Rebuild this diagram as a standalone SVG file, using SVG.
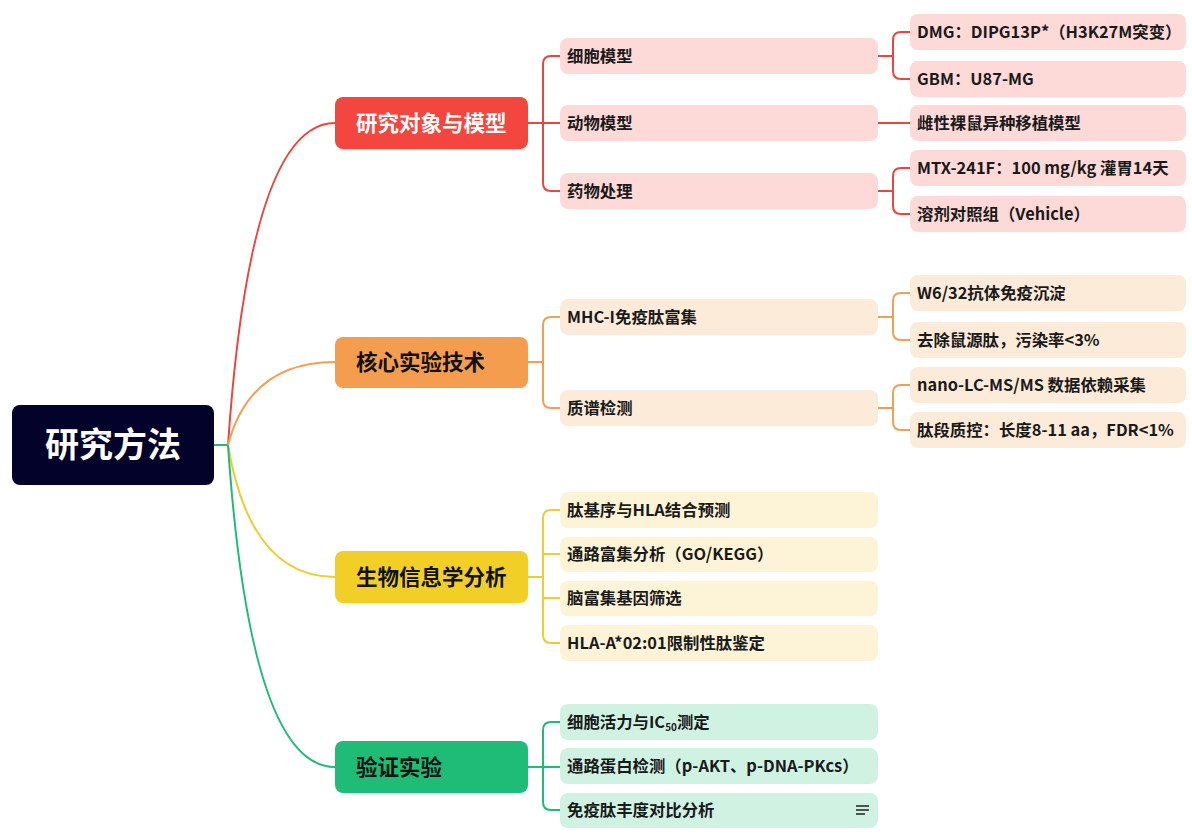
<svg xmlns="http://www.w3.org/2000/svg" width="1192" height="834" viewBox="0 0 1192 834">
<style>
text{font-family:"Noto Sans CJK SC","Noto Sans",sans-serif;}
.root{fill:#03022a;}
.rt{fill:#fff;font-size:34px;font-weight:700;}
.l1t{font-size:21.5px;font-weight:700;fill:#111;}
.l2t{font-size:16.4px;font-weight:600;fill:#1a1a1a;}
.red .l1{fill:#f2463e;} .red .l2{fill:#fdd9d8;}
.org .l1{fill:#f59d4e;} .org .l2{fill:#fdebd9;}
.yel .l1{fill:#f1cf27;} .yel .l2{fill:#fdf3d6;}
.grn .l1{fill:#1ebc76;} .grn .l2{fill:#cff2e3;}
.c{fill:none;stroke-width:2;}
.cr{stroke:#e8473f;} .co{stroke:#eea055;} .cy{stroke:#eccd32;} .cg{stroke:#1fbb7a;}
</style>
<rect width="1192" height="834" fill="#fff"/>
<g id="connectors">
  <path class="c cg" d="M214,445 H228"/>
  <path class="c cr" d="M228,445 Q250,123 335,123"/>
  <path class="c co" d="M228,445 Q250,362 335,362"/>
  <path class="c cy" d="M228,445 Q250,577 335,577"/>
  <path class="c cg" d="M228,445 Q250,767 335,767"/>
  <path class="c cr" d="M528,123 H560 M560,56 H551 Q543,56 543,64 V183 Q543,191 551,191 H560"/>
  <path class="c cr" d="M878,56 H893 M910,32 H901 Q893,32 893,40 V71 Q893,79 901,79 H910"/>
  <path class="c cr" d="M878,123 H910"/>
  <path class="c cr" d="M878,191 H893 M910,168 H901 Q893,168 893,176 V206 Q893,214 901,214 H910"/>
  <path class="c co" d="M528,362 H543 M560,317 H551 Q543,317 543,325 V400 Q543,408 551,408 H560"/>
  <path class="c co" d="M878,317 H893 M910,293 H901 Q893,293 893,301 V332 Q893,340 901,340 H910"/>
  <path class="c co" d="M878,408 H893 M910,385 H901 Q893,385 893,393 V422 Q893,430 901,430 H910"/>
  <path class="c cy" d="M528,577 H543 M560,510 H551 Q543,510 543,518 V635 Q543,643 551,643 H560 M543,554 H560 M543,598 H560"/>
  <path class="c cg" d="M528,767 H560 M560,722 H551 Q543,722 543,730 V802 Q543,810 551,810 H560"/>
</g>
<g id="root">
  <rect class="root" x="12" y="405" width="202" height="80" rx="8"/>
  <text class="rt" x="113" y="457" text-anchor="middle">研究方法</text>
</g>
<g class="red">
  <g id="n-research-object"><rect class="l1" x="335" y="97" width="193" height="52" rx="8"/><text class="l1t" x="356" y="131" style="fill:#fff">研究对象与模型</text></g>
  <g id="n-cell-model"><rect class="l2" x="560" y="38" width="318" height="36" rx="8"/><text class="l2t" x="567" y="62">细胞模型</text></g>
  <g id="n-animal-model"><rect class="l2" x="560" y="105" width="318" height="36" rx="8"/><text class="l2t" x="567" y="129">动物模型</text></g>
  <g id="n-drug"><rect class="l2" x="560" y="173" width="318" height="36" rx="8"/><text class="l2t" x="567" y="197">药物处理</text></g>
  <g id="n-dmg"><rect class="l2" x="910" y="14" width="276" height="36" rx="8"/><text class="l2t" x="917" y="38">DMG：DIPG13P*（H3K27M突变）</text></g>
  <g id="n-gbm"><rect class="l2" x="910" y="61" width="276" height="36" rx="8"/><text class="l2t" x="917" y="85">GBM：U87-MG</text></g>
  <g id="n-xeno"><rect class="l2" x="910" y="105" width="276" height="36" rx="8"/><text class="l2t" x="917" y="129">雌性裸鼠异种移植模型</text></g>
  <g id="n-mtx"><rect class="l2" x="910" y="150" width="276" height="36" rx="8"/><text class="l2t" x="917" y="174">MTX-241F：100 mg/kg 灌胃14天</text></g>
  <g id="n-vehicle"><rect class="l2" x="910" y="196" width="276" height="36" rx="8"/><text class="l2t" x="917" y="220">溶剂对照组（Vehicle）</text></g>
</g>
<g class="org">
  <g id="n-core"><rect class="l1" x="335" y="337" width="193" height="51" rx="8"/><text class="l1t" x="356" y="370">核心实验技术</text></g>
  <g id="n-mhc"><rect class="l2" x="560" y="299" width="318" height="36" rx="8"/><text class="l2t" x="567" y="323">MHC-I免疫肽富集</text></g>
  <g id="n-ms"><rect class="l2" x="560" y="390" width="318" height="36" rx="8"/><text class="l2t" x="567" y="414">质谱检测</text></g>
  <g id="n-w632"><rect class="l2" x="910" y="275" width="276" height="36" rx="8"/><text class="l2t" x="917" y="299">W6/32抗体免疫沉淀</text></g>
  <g id="n-remove"><rect class="l2" x="910" y="322" width="276" height="36" rx="8"/><text class="l2t" x="917" y="346">去除鼠源肽，污染率&lt;3%</text></g>
  <g id="n-nano"><rect class="l2" x="910" y="367" width="276" height="36" rx="8"/><text class="l2t" x="917" y="391">nano-LC-MS/MS 数据依赖采集</text></g>
  <g id="n-qc"><rect class="l2" x="910" y="412" width="276" height="36" rx="8"/><text class="l2t" x="917" y="436">肽段质控：长度8-11 aa，FDR&lt;1%</text></g>
</g>
<g class="yel">
  <g id="n-bio"><rect class="l1" x="335" y="551" width="193" height="52" rx="8"/><text class="l1t" x="356" y="585">生物信息学分析</text></g>
  <g id="n-motif"><rect class="l2" x="560" y="492" width="318" height="36" rx="8"/><text class="l2t" x="567" y="516">肽基序与HLA结合预测</text></g>
  <g id="n-path"><rect class="l2" x="560" y="537" width="318" height="35" rx="8"/><text class="l2t" x="567" y="560">通路富集分析（GO/KEGG）</text></g>
  <g id="n-brain"><rect class="l2" x="560" y="581" width="318" height="35" rx="8"/><text class="l2t" x="567" y="604">脑富集基因筛选</text></g>
  <g id="n-hla"><rect class="l2" x="560" y="625" width="318" height="36" rx="8"/><text class="l2t" x="567" y="649">HLA-A*02:01限制性肽鉴定</text></g>
</g>
<g class="grn">
  <g id="n-valid"><rect class="l1" x="335" y="741" width="193" height="52" rx="8"/><text class="l1t" x="356" y="775">验证实验</text></g>
  <g id="n-ic50"><rect class="l2" x="560" y="704" width="318" height="36" rx="8"/><text class="l2t" x="567" y="728">细胞活力与IC<tspan font-size="10" dy="3">50</tspan><tspan dy="-3">测定</tspan></text></g>
  <g id="n-protein"><rect class="l2" x="560" y="748" width="318" height="36" rx="8"/><text class="l2t" x="567" y="772">通路蛋白检测（p-AKT、p-DNA-PKcs）</text></g>
  <g id="n-abund"><rect class="l2" x="560" y="793" width="318" height="35" rx="8"/><text class="l2t" x="567" y="816">免疫肽丰度对比分析</text>
    <path d="M856,806 H869 M856,810 H869 M856,814 H865" stroke="#222" stroke-width="1.6" fill="none"/></g>
</g>
</svg>
